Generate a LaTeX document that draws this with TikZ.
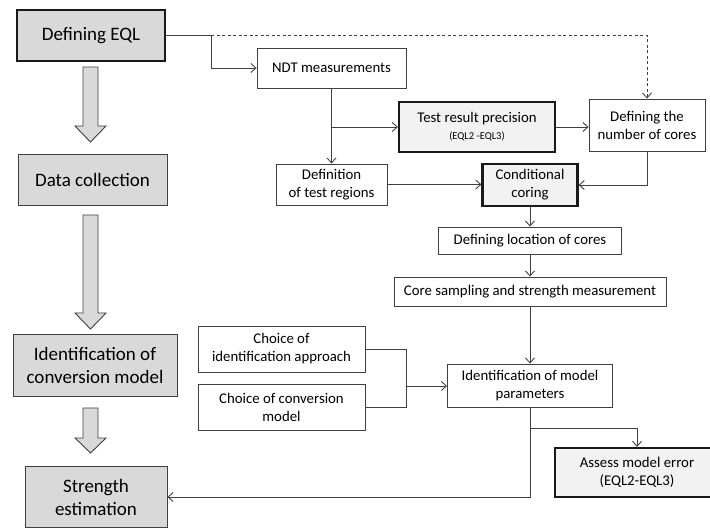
\documentclass[tikz,border=0pt]{standalone}
\usepackage{fontspec}
\setmainfont{Carlito}
\usetikzlibrary{arrows.meta}
\definecolor{linegray}{HTML}{404040}
\definecolor{boxgray}{HTML}{D9D9D9}
\definecolor{keygray}{HTML}{F2F2F2}

\begin{document}
\begin{tikzpicture}[x=1pt, y=-1pt, >={Straight Barb[length=5pt,width=9pt]},
  line/.style={draw=linegray, line width=0.9pt},
  box/.style={draw=linegray, fill=white, line width=0.9pt, align=center, inner sep=2pt,
    font=\fontsize{14.8}{18}\selectfont},
  keybox/.style={box, fill=keygray, line width=2.2pt, draw=black!90},
  stagebox/.style={box, fill=boxgray, font=\fontsize{19}{23}\selectfont},
  bigarrow/.style={draw=linegray, fill=boxgray, line width=0.9pt, line join=miter}]
  \useasboundingbox (0,0) rectangle (710,529);
  % stages on the left
  \node[stagebox, line width=2.2pt, draw=black!90, minimum width=148pt, minimum height=51pt] (eql) at (91,35.5) {Defining EQL};
  \node[stagebox, minimum width=149pt, minimum height=51pt] (data) at (92.5,179.5) {Data collection};
  \node[stagebox, minimum width=164pt, minimum height=62pt] (ident) at (95,365) {Identification of\\conversion model};
  \node[stagebox, minimum width=142pt, minimum height=61pt] (strength) at (96,497) {Strength\\estimation};
  \foreach \ya/\yb/\yc in {67/126/142, 215/313/329, 408/438/453}
    \draw[bigarrow] (83,\ya) -- (98,\ya) -- (98,\yb) -- (106,\yb) -- (90.5,\yc) -- (75,\yb) -- (83,\yb) -- cycle;
  % detailed steps
  \node[box, minimum width=149pt, minimum height=40pt] (ndt) at (331.5,68) {NDT measurements};
  \node[keybox, minimum width=156pt, minimum height=50pt] (prec) at (477,127) {Test result precision\\[-1pt]{\fontsize{10.5}{12}\selectfont(EQL2 -EQL3)}};
  \node[box, minimum width=116pt, minimum height=52pt] (ncores) at (647,125) {Defining the\\number of cores};
  \node[box, minimum width=111pt, minimum height=41pt] (regions) at (331.5,184.5) {Definition\\of test regions};
  \node[keybox, minimum width=95pt, minimum height=42pt] (coring) at (530,185) {Conditional\\coring};
  \node[box, minimum width=183pt, minimum height=27pt] (location) at (530,240.5) {Defining location of cores};
  \node[box, minimum width=272pt, minimum height=29pt] (sampling) at (530,291.5) {Core sampling and strength measurement};
  \node[box, minimum width=167pt, minimum height=46pt] (approach) at (281.5,349) {Choice of\\identification approach};
  \node[box, minimum width=167pt, minimum height=46pt] (convmodel) at (281.5,407) {Choice of conversion\\model};
  \node[box, minimum width=165pt, minimum height=43pt] (params) at (530,385.5) {Identification of model\\parameters};
  \node[keybox, minimum width=164pt, minimum height=49pt] (assess) at (637,472.5) {Assess model error\\(EQL2-EQL3)};
  % connectors
  \coordinate (split) at (211,35.5);
  \draw[line] (eql.east) -- (split);
  \draw[line, ->] (split) |- (ndt.west);
  \draw[line, ->, dash pattern=on 3pt off 2.5pt] (split) -| (ncores.north);
  \draw[line, ->] (ndt) -- (regions);
  \draw[line, ->] (ndt.south |- prec.west) -- (prec.west);
  \draw[line, ->] (prec.east) -- (prec.east -| ncores.west);
  \draw[line, ->] (ncores.south) |- (coring.east);
  \draw[line, ->] (regions.east) -- (regions.east -| coring.west);
  \draw[line, ->] (coring) -- (location);
  \draw[line, ->] (location) -- (sampling);
  \draw[line, ->] (sampling) -- (params);
  \coordinate (join) at (406,386);
  \draw[line] (approach.east) -| (join);
  \draw[line] (convmodel.east) -| (join);
  \draw[line, ->] (join) -- (join -| params.west);
  \coordinate (psplit) at (530,428);
  \draw[line] (params.south) -- (psplit);
  \draw[line, ->] (psplit) -| (assess.north);
  \draw[line, ->] (psplit) |- (strength.east);
\end{tikzpicture}
\end{document}
